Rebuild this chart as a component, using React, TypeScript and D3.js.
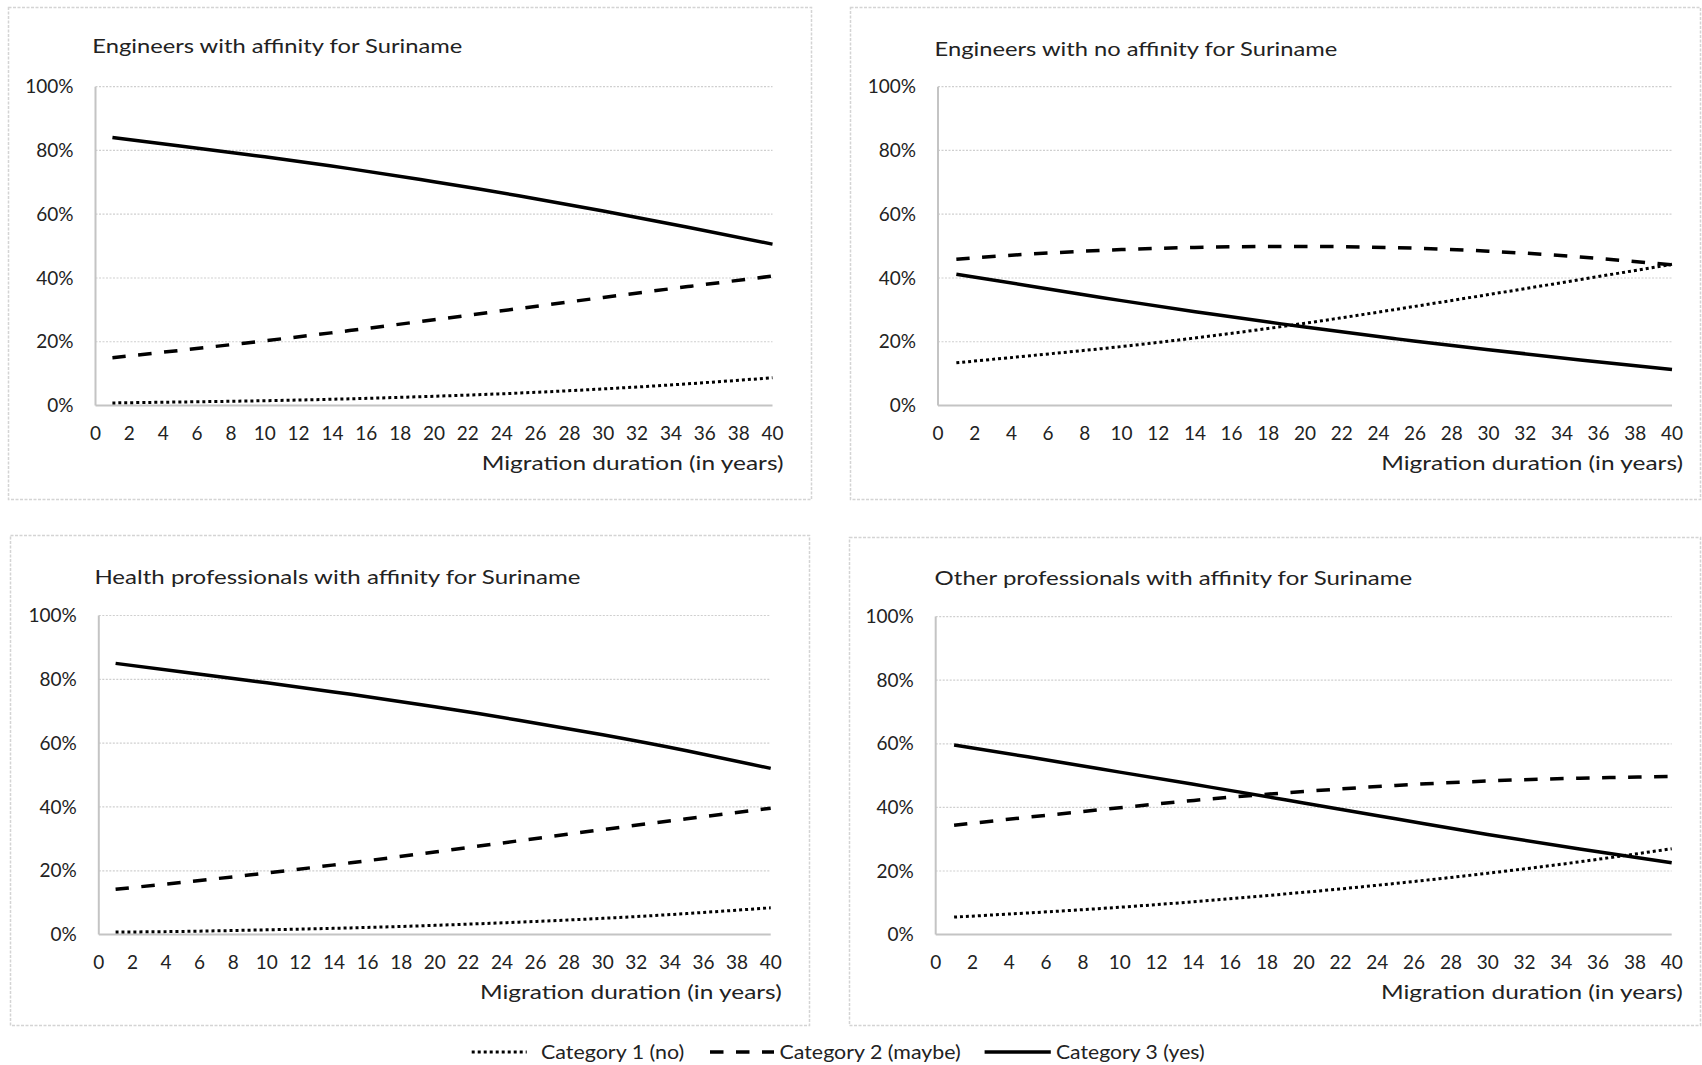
import React from "react";
import * as d3 from "d3";

// ---- data ----
const years = [1, 5, 10, 15, 20, 25, 30, 35, 40];
const panelTitles = [
  "Engineers with affinity for Suriname",
  "Engineers with no affinity for Suriname",
  "Health professionals with affinity for Suriname",
  "Other professionals with affinity for Suriname",
];
// Category 1 (no) – dotted
const cat1 = [
  [0.8, 1.1, 1.5, 2.1, 2.9, 3.9, 5.2, 6.8, 8.7],
  [13.4, 15.6, 18.5, 21.9, 25.8, 30.2, 34.8, 39.5, 44.3],
  [0.8, 1.0, 1.5, 2.1, 2.9, 3.9, 5.1, 6.6, 8.4],
  [5.5, 6.8, 8.6, 10.8, 13.3, 16.1, 19.3, 22.9, 27.0],
];
// Category 2 (maybe) – dashed
const cat2 = [
  [15.0, 17.3, 20.3, 23.5, 26.9, 30.4, 33.9, 37.3, 40.6],
  [45.9, 47.5, 48.9, 49.7, 49.9, 49.5, 48.4, 46.6, 44.1],
  [14.2, 16.4, 19.3, 22.5, 25.9, 29.4, 32.9, 36.3, 39.6],
  [34.4, 36.9, 39.9, 42.7, 45.0, 46.9, 48.3, 49.2, 49.7],
];
// Category 3 (yes) – solid
const cat3 = [
  [84.1, 81.4, 78.0, 74.3, 70.2, 65.8, 61.0, 55.9, 50.6],
  [41.2, 37.5, 32.9, 28.6, 24.6, 20.9, 17.5, 14.3, 11.3],
  [85.0, 82.3, 78.9, 75.3, 71.4, 67.2, 62.6, 57.6, 52.1],
  [59.6, 55.9, 51.1, 46.3, 41.4, 36.4, 31.5, 26.9, 22.6],
];
const xTicks = [0, 2, 4, 6, 8, 10, 12, 14, 16, 18, 20, 22, 24, 26, 28, 30, 32, 34, 36, 38, 40];
const yTicks = [0, 20, 40, 60, 80, 100];
const xAxisTitle = "Migration duration (in years)";
const legendLabels = ["Category 1 (no)", "Category 2 (maybe)", "Category 3 (yes)"];

// ---- layout ----
const W = 1702;
const H = 1065;
const FONT = "Lato, 'Open Sans', sans-serif";
const layout = [
  { box: [8.5, 7.5, 811.5, 499.5], plot: [95.5, 772.5, 405.5, 86.7], title: [92.3, 53], titleW: 370 },
  { box: [850.5, 7.5, 1700.5, 499.5], plot: [938, 1672, 405.5, 86.7], title: [934.6, 56], titleW: 402.7 },
  { box: [10.5, 535.5, 809.5, 1025.5], plot: [98.8, 770.7, 934.6, 615.5], title: [94.4, 584], titleW: 486 },
  { box: [849.5, 537.5, 1700.5, 1025.5], plot: [935.7, 1671.7, 934.6, 616.6], title: [934.6, 585], titleW: 477.6 },
];
const styles = [
  { dash: "3,3", width: 3 },
  { dash: "13.5,12.5", width: 3.5 },
  { dash: null as string | null, width: 3.5 },
];

function Panel({ i }: { i: number }) {
  const L = layout[i];
  const [bx0, by0, bx1, by1] = L.box;
  const [px0, px1, py0, py1] = L.plot;
  const x = d3.scaleLinear().domain([0, 40]).range([px0, px1]);
  const y = d3.scaleLinear().domain([0, 100]).range([py0, py1]);
  const line = d3
    .line<number>()
    .x((_, k) => x(years[k]))
    .y((d) => y(d))
    .curve(d3.curveNatural);
  const series = [cat1[i], cat2[i], cat3[i]];
  return (
    <g>
      <rect x={bx0} y={by0} width={bx1 - bx0} height={by1 - by0} fill="#fff" stroke="#d4d4d4" strokeWidth={1.5} strokeDasharray="3,1.5" />
      <text x={L.title[0]} y={L.title[1]} fontFamily={FONT} fontSize={20} fill="#222" textLength={L.titleW} lengthAdjust="spacingAndGlyphs">
        {panelTitles[i]}
      </text>
      {yTicks.map((t) =>
        t === 0 ? null : (
          <line key={"g" + t} x1={px0} x2={px1} y1={y(t)} y2={y(t)} stroke="#cfcfcf" strokeWidth={1.2} strokeDasharray="2,1.5" />
        )
      )}
      <line x1={px0} x2={px0} y1={y(100)} y2={y(0)} stroke="#c4c4c4" strokeWidth={2} />
      <line x1={px0} x2={px1} y1={y(0)} y2={y(0)} stroke="#c4c4c4" strokeWidth={2} />
      {yTicks.map((t) => (
        <text key={"y" + t} x={px0 - 22} y={y(t)} dy="0.35em" textAnchor="end" fontFamily={FONT} fontSize={19} fill="#222">
          {t + "%"}
        </text>
      ))}
      {xTicks.map((t) => (
        <text key={"x" + t} x={x(t)} y={py0 + 28} dy="0.35em" textAnchor="middle" fontFamily={FONT} fontSize={19} fill="#222">
          {t}
        </text>
      ))}
      <text x={px1 + 11} y={py0 + 57} dy="0.35em" textAnchor="end" fontFamily={FONT} fontSize={20} fill="#222" textLength={301.8} lengthAdjust="spacingAndGlyphs">
        {xAxisTitle}
      </text>
      {series.map((s, k) => (
        <path
          key={"s" + k}
          d={line(s) || ""}
          fill="none"
          stroke="#000"
          strokeWidth={styles[k].width}
          strokeDasharray={styles[k].dash || undefined}
        />
      ))}
    </g>
  );
}

function Legend() {
  const items = [
    { x0: 471.7, x1: 526.7, tx: 541, w: 143.3 },
    { x0: 710, x1: 774, tx: 779.5, w: 181.3 },
    { x0: 984.6, x1: 1050.8, tx: 1056, w: 148.7 },
  ];
  const ly = 1052;
  return (
    <g>
      {items.map((it, k) => (
        <g key={k}>
          <line x1={it.x0} x2={it.x1} y1={ly} y2={ly} stroke="#000" strokeWidth={styles[k].width} strokeDasharray={styles[k].dash || undefined} />
          <text x={it.tx} y={ly} dy="0.35em" fontFamily={FONT} fontSize={19} fill="#222" textLength={it.w} lengthAdjust="spacingAndGlyphs">
            {legendLabels[k]}
          </text>
        </g>
      ))}
    </g>
  );
}

export default function App() {
  return (
    <svg width={W} height={H} style={{ position: "absolute", left: 0, top: 0, background: "#fff" }}>
      <rect x={0} y={0} width={W} height={H} fill="#fff" />
      {[0, 1, 2, 3].map((i) => (
        <Panel key={i} i={i} />
      ))}
      <Legend />
    </svg>
  );
}
